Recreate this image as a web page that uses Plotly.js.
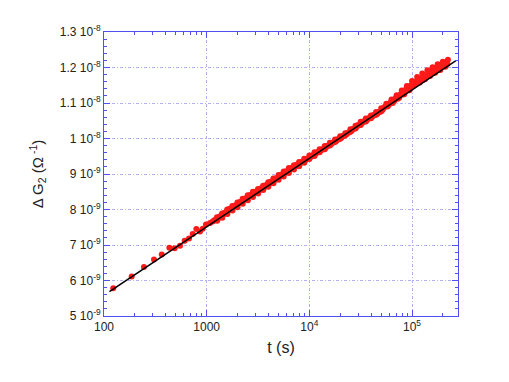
<!DOCTYPE html>
<html>
<head>
<meta charset="utf-8">
<script src="https://cdn.plot.ly/plotly-3.0.1.min.js"></script>
<style>html,body{margin:0;padding:0;background:#fff;}#chart{width:509px;height:382px;}</style>
</head>
<body>
<div id="chart"></div>
<script>
// Measured data: time (s) and ΔG2 (units of 1e-9 Ω^-1)
const timeS = [123, 186, 245, 307, 365, 433, 488, 550, 611, 673, 731, 793, 861, 915, 985, 1077, 1145,
  1189, 1259, 1334, 1413, 1496, 1585, 1679, 1778, 1884, 1995, 2113, 2239, 2371, 2512, 2661, 2818, 2985,
  3162, 3350, 3548, 3758, 3981, 4217, 4467, 4732, 5012, 5309, 5623, 5957, 6310, 6683, 7079, 7499, 7943,
  8414, 8913, 9441, 10000, 10593, 11220, 11885, 12589, 13335, 14125, 14962, 15849, 16788, 17783, 18836,
  19953, 21135, 22387, 23714, 25119, 26607, 28184, 29854, 31623, 33497, 35481, 37584, 39811, 42170,
  44668, 47315, 50119, 53088, 56234, 57900, 59566, 63096, 64940, 66834, 70795, 72860, 74989, 79433,
  81750, 84140, 89125, 91700, 94406, 100000, 102900, 105925, 112202, 115500, 118850, 125893, 129600,
  133352, 141254, 145400, 149624, 158489, 163100, 167880, 177828, 183000, 188365, 199526, 205300,
  211349, 217600, 223872,
  1223, 1296, 1373, 1454, 1540, 1631, 1728, 1830, 1939, 2054, 2175, 2304, 2441, 2585, 2738, 2901,
  3073, 3255, 3448, 3652, 3868, 4097, 4340, 4597, 4870, 5158, 5464, 5788, 6131, 6494, 6879, 7286,
  7718, 8175, 8660, 9173, 9716, 10292, 10902, 11548, 12232, 12957, 13725, 14538, 15399, 16312, 17278,
  18302, 19387, 20535, 21752, 23041, 24406, 25852, 27384, 29007, 30726, 32546, 34475, 36517, 38681,
  40973, 43401, 45973, 48697, 51582,
  54639, 61306, 68786, 77179, 86596, 97163, 109020, 122320, 137250, 153990, 172780, 193870, 221300,
  1265, 1420, 1590, 1785, 2000, 2245, 2520, 2825, 3170, 3555, 3990, 4475, 5020, 5630, 6320, 7090,
  7955, 8925, 10015, 11235, 12605, 14145, 15870, 17805, 19980, 22415, 25150, 28220, 31660, 35520,
  39860, 44720, 50180];
const deltaG = [5.78, 6.11, 6.38, 6.59, 6.73, 6.92, 6.91, 6.98, 7.12, 7.18, 7.31, 7.45, 7.38, 7.46, 7.58, 7.62, 7.66,
  7.70, 7.78, 7.80, 7.89, 7.91, 8.00, 8.02, 8.10, 8.11, 8.20, 8.21, 8.30, 8.31, 8.40, 8.41, 8.50, 8.50,
  8.58, 8.59, 8.67, 8.68, 8.77, 8.78, 8.87, 8.88, 8.97, 8.98, 9.07, 9.08, 9.17, 9.17, 9.25, 9.26, 9.34,
  9.34, 9.43, 9.43, 9.52, 9.52, 9.61, 9.61, 9.70, 9.70, 9.79, 9.79, 9.88, 9.89, 9.97, 9.98,
  10.06, 10.07, 10.15, 10.16, 10.26, 10.27, 10.36, 10.38, 10.47, 10.48, 10.56, 10.57, 10.65, 10.66,
  10.75, 10.75, 10.85, 10.86, 10.98, 10.90, 10.95, 11.10, 11.00, 11.05, 11.22, 11.12, 11.15, 11.35,
  11.24, 11.25, 11.48, 11.36, 11.36, 11.62, 11.48, 11.50, 11.73, 11.57, 11.58, 11.83, 11.66,
  11.67, 11.92, 11.76, 11.76, 12.01, 11.85, 11.85, 12.09, 11.94, 11.93, 12.16, 12.04,
  12.02, 12.16, 12.22,
  7.71, 7.75, 7.81, 7.86, 7.91, 7.97, 8.02, 8.07, 8.11, 8.17, 8.21, 8.27, 8.31, 8.37, 8.41, 8.46,
  8.50, 8.54, 8.59, 8.63, 8.68, 8.73, 8.78, 8.83, 8.88, 8.93, 8.98, 9.03, 9.08, 9.13, 9.17, 9.21,
  9.26, 9.30, 9.34, 9.39, 9.43, 9.48, 9.52, 9.57, 9.61, 9.66, 9.70, 9.75, 9.80, 9.84, 9.89,
  9.93, 9.98, 10.02, 10.07, 10.12, 10.17, 10.22, 10.28, 10.33, 10.38, 10.43, 10.48, 10.52, 10.57,
  10.61, 10.66, 10.70, 10.75, 10.80,
  10.90, 11.01, 11.13, 11.24, 11.37, 11.49, 11.60, 11.70, 11.79, 11.88, 11.97, 12.05, 12.10,
  7.68, 7.77, 7.87, 7.97, 8.06, 8.16, 8.26, 8.35, 8.45, 8.55, 8.64, 8.74, 8.84, 8.93, 9.03, 9.13,
  9.22, 9.32, 9.42, 9.51, 9.61, 9.70, 9.80, 9.90, 9.99, 10.09, 10.19, 10.28, 10.38, 10.48,
  10.57, 10.67, 10.77];
// Fitted straight line (log t)
const fitT = [113, 268000];
const fitG = [5.686, 12.195];

const yTickVals = [5, 6, 7, 8, 9, 10, 11, 12, 13];
const yTickText = ['5 10<sup>-9</sup>', '6 10<sup>-9</sup>', '7 10<sup>-9</sup>', '8 10<sup>-9</sup>',
  '9 10<sup>-9</sup>', '1 10<sup>-8</sup>', '1.1 10<sup>-8</sup>', '1.2 10<sup>-8</sup>', '1.3 10<sup>-8</sup>'];
const xTickVals = [100, 1000, 10000, 100000];
const xTickText = ['100', '1000', '10<sup>4</sup>', '10<sup>5</sup>'];
const xMinorVals = [200,300,400,500,600,700,800,900,2000,3000,4000,5000,6000,7000,8000,9000,
  20000,30000,40000,50000,60000,70000,80000,90000,200000];

const axisBlue = '#5050f0';
const gridBlue = '#b0b0f2';

const traces = [
  {x: timeS, y: deltaG, type: 'scatter', mode: 'markers',
   marker: {color: '#ff1a1a', size: 6, line: {width: 0}}, showlegend: false, hoverinfo: 'skip'},
  {x: fitT, y: fitG, type: 'scatter', mode: 'lines',
   line: {color: '#000000', width: 1.5}, showlegend: false, hoverinfo: 'skip'}
];

const layout = {
  width: 509, height: 382,
  margin: {l: 104, r: 51, t: 32, b: 66},
  paper_bgcolor: '#ffffff', plot_bgcolor: '#ffffff',
  font: {family: 'Liberation Sans, Arial, sans-serif', color: '#222222', size: 12},
  xaxis: {
    type: 'log', range: [2, 5.448],
    tickmode: 'array', tickvals: xTickVals, ticktext: xTickText,
    ticks: 'inside', ticklen: 6, tickcolor: axisBlue, tickwidth: 1,
    showline: true, linecolor: axisBlue, linewidth: 1, mirror: 'ticks',
    showgrid: true, gridcolor: gridBlue, gridwidth: 1, griddash: '3px,2px,1px,2px',
    zeroline: false,
    tickfont: {size: 12, color: '#222'},
    minor: {tickmode: 'array', tickvals: xMinorVals, ticks: 'inside', ticklen: 3, tickcolor: axisBlue, showgrid: false},
    title: {text: 't (s)', font: {size: 16, color: '#222'}, standoff: 8}
  },
  yaxis: {
    range: [5, 13],
    tickmode: 'array', tickvals: yTickVals, ticktext: yTickText,
    ticks: 'inside', ticklen: 6, tickcolor: axisBlue, tickwidth: 1,
    showline: true, linecolor: axisBlue, linewidth: 1, mirror: 'ticks',
    showgrid: true, gridcolor: gridBlue, gridwidth: 1, griddash: '3px,2px,1px,2px',
    zeroline: false,
    tickfont: {size: 12, color: '#222'},
    minor: {dtick: 0.2, ticks: 'inside', ticklen: 3, tickcolor: axisBlue, showgrid: false},
    title: {text: 'Δ G<sub>2</sub> (Ω<sup> -1</sup>)', font: {size: 15, color: '#222'}, standoff: 12}
  }
};

Plotly.newPlot('chart', traces, layout, {displayModeBar: false, staticPlot: true});
</script>
</body>
</html>
